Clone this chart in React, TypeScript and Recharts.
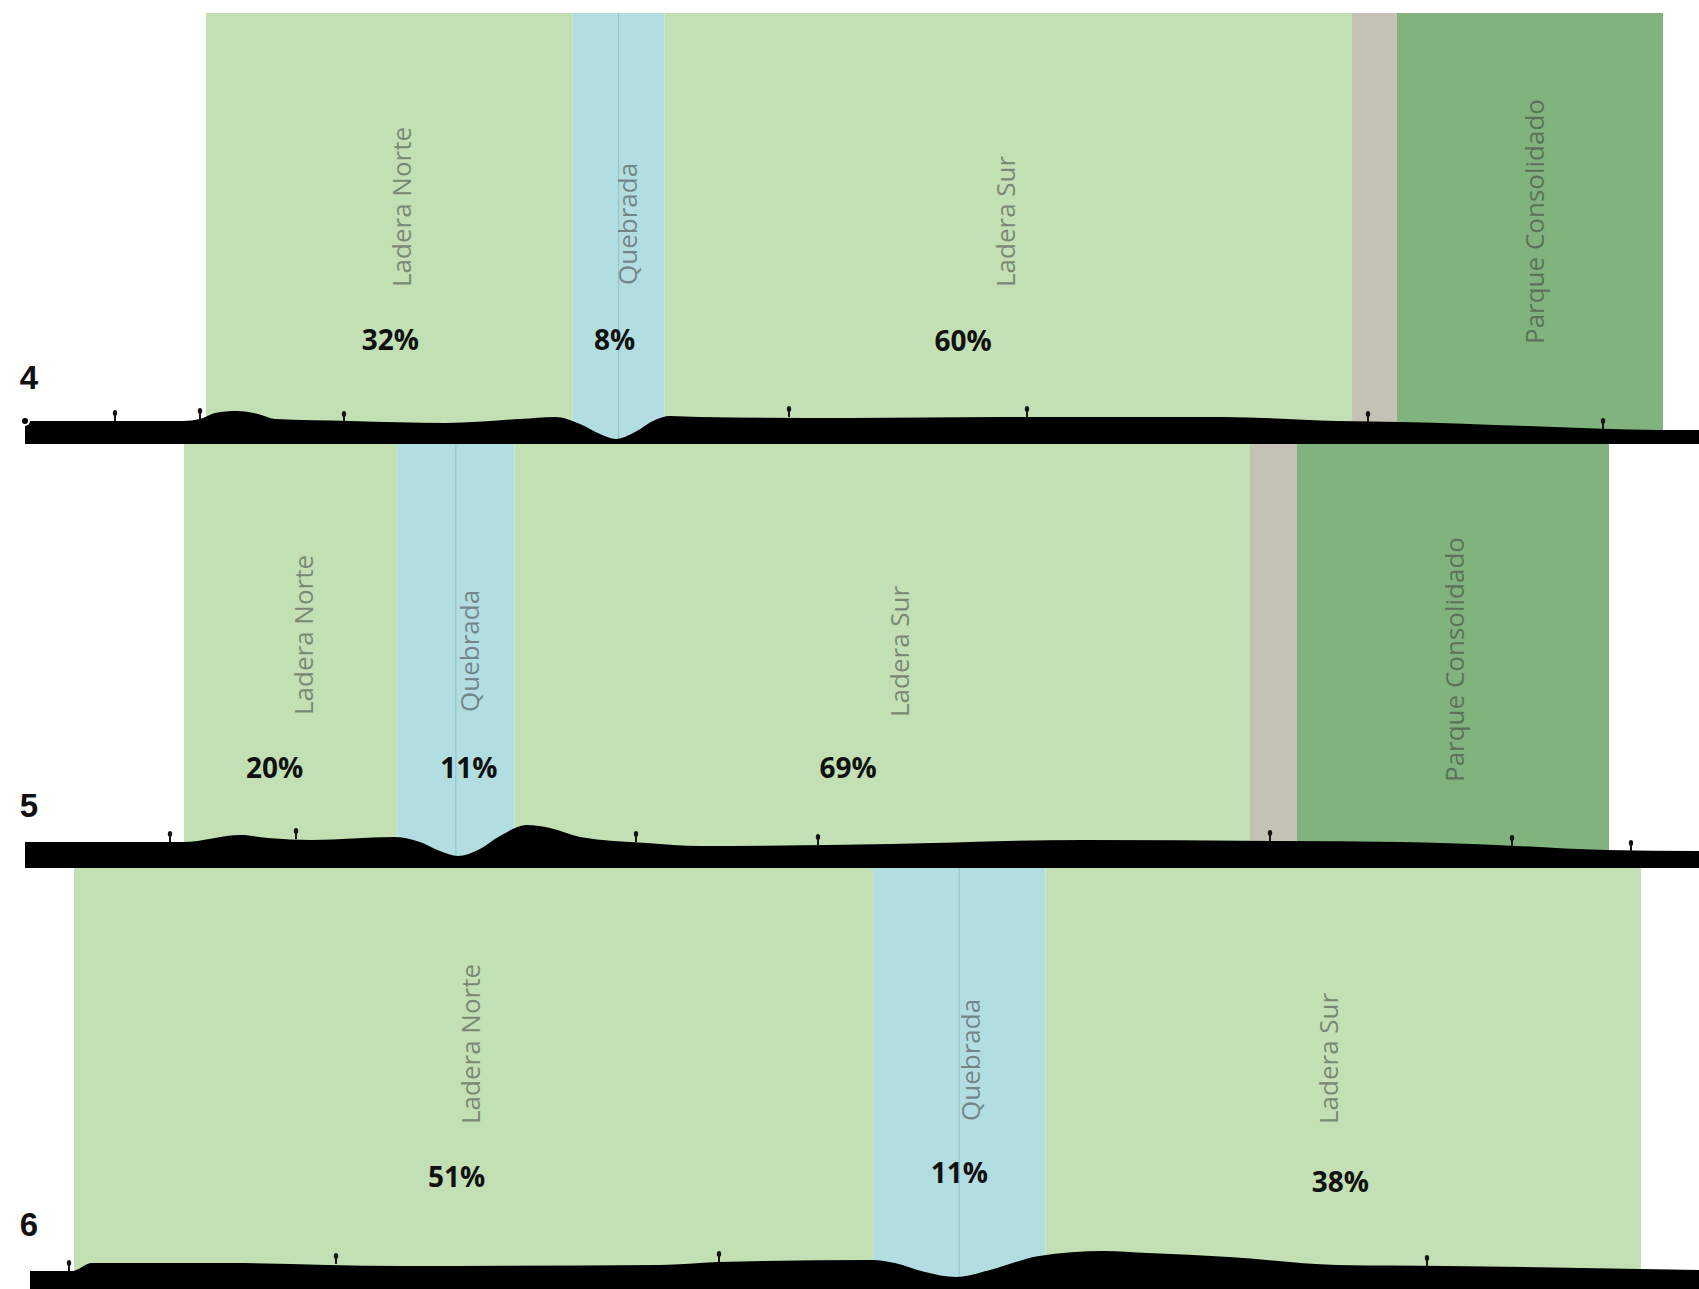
import React from "react";
import { ComposedChart, Area, Scatter, XAxis, YAxis } from "recharts";

// Three cross sections (4, 5, 6) of the ravine, with the share of each zone.
const sectionNames = ["4", "5", "6"];
const zoneNames = ["Ladera Norte", "Quebrada", "Ladera Sur"];
const parkName = "Parque Consolidado";

const shares4 = [32, 8, 60];
const shares5 = [20, 11, 69];
const shares6 = [51, 11, 38];

// chainage along the drawing where each section starts, and its length
const sectionStart = [206, 184, 74];
const sectionLength = [1146, 1066, 1567];
// extra strips after Ladera Sur: grey border, then consolidated park
const borderWidth = [45, 47, 0];
const parkWidth = [266, 312, 0];

// ground profile: [chainage, elevation]
const ground4: [number, number][] = [
  [25, 23], [183, 23], [200, 25], [215, 31], [237, 33], [258, 30], [275, 25],
  [350, 23], [446, 21], [520, 25], [555, 27], [580, 20], [600, 10], [616, 5],
  [635, 12], [655, 24], [670, 28], [700, 27], [850, 26], [1000, 27], [1222, 27],
  [1337, 23], [1401, 22], [1528, 18], [1662, 14], [1699, 14],
];
const ground5: [number, number][] = [
  [25, 26], [183, 26], [241, 33], [268, 30], [312, 28], [393, 31], [420, 26],
  [440, 17], [458, 12], [478, 18], [500, 32], [527, 43], [550, 40], [580, 31],
  [647, 25], [700, 22], [891, 24], [1082, 28], [1273, 27], [1401, 26],
  [1496, 23], [1605, 18], [1699, 17],
];
const ground6: [number, number][] = [
  [30, 18], [72, 18], [92, 26], [230, 26], [402, 23], [660, 24], [718, 27],
  [873, 29], [895, 26], [925, 17], [956, 12], [990, 19], [1039, 33], [1104, 38],
  [1148, 36], [1229, 32], [1337, 24], [1446, 23], [1640, 20], [1699, 19],
];

// small figures standing on the ground: [chainage, elevation]
const trees4: [number, number][] = [
  [115, 23], [200, 25], [344, 22], [789, 27], [1027, 27], [1368, 22], [1603, 15],
];
const trees5: [number, number][] = [
  [170, 26], [296, 29], [636, 26], [818, 23], [1270, 27], [1512, 22], [1631, 17],
];
const trees6: [number, number][] = [[69, 18], [336, 25], [719, 27], [1427, 23]];

const W = 1699;
const zoneColors = ["#c2e0b4", "#b3dee1", "#c2e0b4"];
const borderColor = "#c4c1b5";
const parkColor = "#80b37d";
const streamColor = "#95c6cb";

const panels = [
  {
    name: sectionNames[0], shares: shares4, start: sectionStart[0], length: sectionLength[0],
    border: borderWidth[0], park: parkWidth[0], ground: ground4, trees: trees4,
    height: 444, bandTop: 431, labelBase: [157, 159, 157], parkBase: 100,
    labelDx: [12, 8, -3], pctDx: [1, -4, -45], pctY: [105, 105, 104], parkDx: 4, nameY: 67,
  },
  {
    name: sectionNames[1], shares: shares5, start: sectionStart[1], length: sectionLength[1],
    border: borderWidth[1], park: parkWidth[1], ground: ground5, trees: trees5,
    height: 424, bandTop: 424, labelBase: [153, 156, 151], parkBase: 86,
    labelDx: [12, 13, 17], pctDx: [-16, 13, -34], pctY: [101, 101, 101], parkDx: 1, nameY: 63,
  },
  {
    name: sectionNames[2], shares: shares6, start: sectionStart[2], length: sectionLength[2],
    border: borderWidth[2], park: parkWidth[2], ground: ground6, trees: trees6,
    height: 421, bandTop: 421, labelBase: [165, 168, 165], parkBase: 0,
    labelDx: [-4, 11, -15], pctDx: [-17, 0, -3], pctY: [113, 117, 108], parkDx: 0, nameY: 65,
  },
];

type Panel = (typeof panels)[number];

function buildBands(p: Panel) {
  const out: { x0: number; x1: number; fill: string }[] = [];
  let x = p.start;
  p.shares.forEach((s, i) => {
    const w = (p.length * s) / 100;
    out.push({ x0: x, x1: x + w, fill: zoneColors[i] });
    x += w;
  });
  if (p.border > 0) {
    out.push({ x0: x, x1: x + p.border, fill: borderColor });
    x += p.border;
  }
  if (p.park > 0) out.push({ x0: x, x1: x + p.park, fill: parkColor });
  return out;
}

function buildLabels(p: Panel, bands: { x0: number; x1: number }[]) {
  const labels: { x: number; y: number; text: string; kind: string }[] = [];
  p.shares.forEach((s, i) => {
    const c = (bands[i].x0 + bands[i].x1) / 2;
    labels.push({ x: c + p.labelDx[i], y: p.labelBase[i], text: zoneNames[i], kind: "zone" });
    labels.push({ x: c + p.pctDx[i], y: p.pctY[i], text: `${s}%`, kind: "pct" });
  });
  if (p.park > 0) {
    const b = bands[bands.length - 1];
    labels.push({ x: (b.x0 + b.x1) / 2 + p.parkDx, y: p.parkBase, text: parkName, kind: "zone" });
  }
  labels.push({ x: 29, y: p.nameY, text: p.name, kind: "num" });
  return labels;
}

const LabelShape = (props: any) => {
  const { cx, cy, payload } = props;
  if (payload.kind === "zone") {
    return (
      <text
        x={cx}
        y={cy}
        transform={`rotate(-90 ${cx} ${cy})`}
        textAnchor="start"
        dominantBaseline="central"
        fontFamily="'Open Sans', sans-serif"
        fontSize={26}
        fill="#3a3a3a"
        fillOpacity={0.55}
      >
        {payload.text}
      </text>
    );
  }
  if (payload.kind === "pct") {
    return (
      <text
        x={cx}
        y={cy}
        textAnchor="middle"
        dominantBaseline="central"
        fontFamily="'Open Sans', sans-serif"
        fontWeight={700}
        fontSize={28}
        fill="#111"
      >
        {payload.text}
      </text>
    );
  }
  return (
    <text
      x={cx}
      y={cy}
      textAnchor="middle"
      dominantBaseline="central"
      fontFamily="'Liberation Sans', Arial, sans-serif"
      fontWeight={700}
      fontSize={33}
      fill="#111"
    >
      {payload.text}
    </text>
  );
};

const TreeShape = (props: any) => {
  const { cx, cy } = props;
  return (
    <g fill="#151515">
      <rect x={cx - 1} y={cy - 9} width={2} height={9} />
      <ellipse cx={cx} cy={cy - 8} rx={2.2} ry={3} />
    </g>
  );
};

function Section({ p }: { p: Panel }) {
  const bands = buildBands(p);
  const labels = buildLabels(p, bands);
  const q = bands[1];
  const qc = (q.x0 + q.x1) / 2;
  return (
    <ComposedChart width={W} height={p.height} margin={{ top: 0, right: 0, bottom: 0, left: 0 }}>
      <XAxis type="number" dataKey="x" domain={[0, W]} hide allowDataOverflow />
      <YAxis type="number" domain={[0, p.height]} hide allowDataOverflow />
      {bands.map((b, i) => (
        <Area
          key={`band-${i}`}
          data={[
            { x: b.x0, y: p.bandTop },
            { x: b.x1, y: p.bandTop },
          ]}
          dataKey="y"
          type="linear"
          fill={b.fill}
          fillOpacity={1}
          stroke="none"
          isAnimationActive={false}
        />
      ))}
      <Area
        data={[
          { x: qc - 0.6, y: p.bandTop },
          { x: qc + 0.6, y: p.bandTop },
        ]}
        dataKey="y"
        type="linear"
        fill={streamColor}
        fillOpacity={1}
        stroke="none"
        isAnimationActive={false}
      />
      <Area
        data={p.ground.map(([x, y]) => ({ x, y }))}
        dataKey="y"
        type="monotone"
        fill="#000"
        fillOpacity={1}
        stroke="none"
        isAnimationActive={false}
      />
      <Scatter
        data={p.trees.map(([x, y]) => ({ x, y }))}
        dataKey="y"
        shape={TreeShape}
        isAnimationActive={false}
      />
      <Scatter data={labels} dataKey="y" shape={LabelShape} isAnimationActive={false} />
    </ComposedChart>
  );
}

export default function App() {
  return (
    <div style={{ position: "absolute", left: 0, top: 0, width: W, background: "#fff" }}>
      {panels.map((p) => (
        <Section key={p.name} p={p} />
      ))}
    </div>
  );
}
